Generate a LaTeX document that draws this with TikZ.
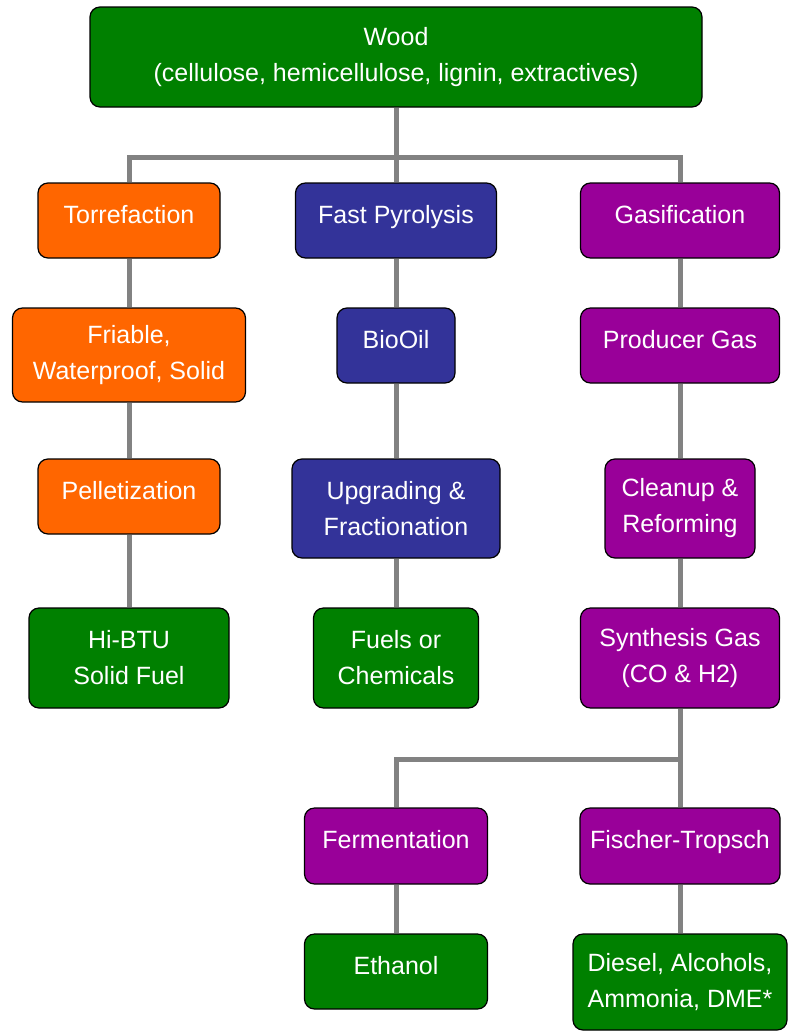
\documentclass[tikz,border=0pt]{standalone}
\usepackage{fontspec}
\setmainfont{Liberation Sans}
\usetikzlibrary{backgrounds}
\definecolor{woodgreen}{RGB}{0,128,0}
\definecolor{torrorange}{RGB}{255,102,0}
\definecolor{pyroblue}{RGB}{51,51,153}
\definecolor{gaspurple}{RGB}{153,0,153}
\definecolor{linkgray}{RGB}{130,130,130}
\tikzset{
  stage/.style={draw=black, line width=1.2pt, rounded corners=10pt, text=white,
    align=center, inner sep=0pt, font=\fontsize{25}{36}\selectfont},
  oneline/.style={text height=18pt, text depth=13pt},
  link/.style={draw=linkgray, line width=5pt}
}
\begin{document}
\begin{tikzpicture}[x=1pt,y=-1pt]
\useasboundingbox (0,0) rectangle (788,1031);
\node (wood) [stage, fill=woodgreen, minimum width=612pt, minimum height=100pt] at (396,57)
  {Wood\\(cellulose, hemicellulose, lignin, extractives)};

\node (torr) [stage, oneline, fill=torrorange, minimum width=182pt, minimum height=75pt] at (129,220.5) {Torrefaction};
\node (pyro) [stage, oneline, fill=pyroblue, minimum width=201pt, minimum height=75pt] at (396,220.5) {Fast Pyrolysis};
\node (gasi) [stage, oneline, fill=gaspurple, minimum width=199pt, minimum height=75pt] at (680,220.5) {Gasification};

\node (friable) [stage, fill=torrorange, minimum width=233pt, minimum height=94pt] at (129,355) {Friable,\\Waterproof, Solid};
\node (biooil) [stage, oneline, fill=pyroblue, minimum width=118pt, minimum height=75pt] at (396,345.5) {BioOil};
\node (producer) [stage, oneline, fill=gaspurple, minimum width=199pt, minimum height=75pt] at (680,345.5) {Producer Gas};

\node (pellet) [stage, oneline, fill=torrorange, minimum width=182pt, minimum height=75pt] at (129,496.5) {Pelletization};
\node (upgrade) [stage, fill=pyroblue, minimum width=208pt, minimum height=99pt] at (396,508.5) {Upgrading \&\\Fractionation};
\node (cleanup) [stage, fill=gaspurple, minimum width=150pt, minimum height=99pt] at (680,508.5) {Cleanup \&\\Reforming};

\node (hibtu) [stage, fill=woodgreen, minimum width=200pt, minimum height=100pt] at (129,658) {Hi-BTU\\Solid Fuel};
\node (fuels) [stage, fill=woodgreen, minimum width=165pt, minimum height=100pt] at (396,658) {Fuels or\\Chemicals};
\node (syngas) [stage, fill=gaspurple, minimum width=199pt, minimum height=100pt] at (680,658) {Synthesis Gas\\(CO \& H2)};

\node (ferm) [stage, oneline, fill=gaspurple, minimum width=183pt, minimum height=76pt] at (396,846) {Fermentation};
\node (fischer) [stage, oneline, fill=gaspurple, minimum width=200pt, minimum height=76pt] at (680,846) {Fischer-Tropsch};

\node (ethanol) [stage, oneline, fill=woodgreen, minimum width=183pt, minimum height=75pt] at (396,971.5) {Ethanol};
\node (diesel) [stage, fill=woodgreen, minimum width=214pt, minimum height=96pt] at (680,982) {Diesel, Alcohols,\\Ammonia, DME*};

\coordinate (bar1) at (396,157);
\coordinate (bar2) at (680,759);
\begin{scope}[on background layer]
\draw [link] (wood) -- (pyro);
\draw [link] (torr) |- (bar1) -| (gasi);
\draw [link] (torr) -- (friable) -- (pellet) -- (hibtu);
\draw [link] (pyro) -- (biooil) -- (upgrade) -- (fuels);
\draw [link] (gasi) -- (producer) -- (cleanup) -- (syngas) -- (fischer) -- (diesel);
\draw [link] (bar2) -| (ferm);
\draw [link] (ferm) -- (ethanol);
\end{scope}
\end{tikzpicture}
\end{document}
